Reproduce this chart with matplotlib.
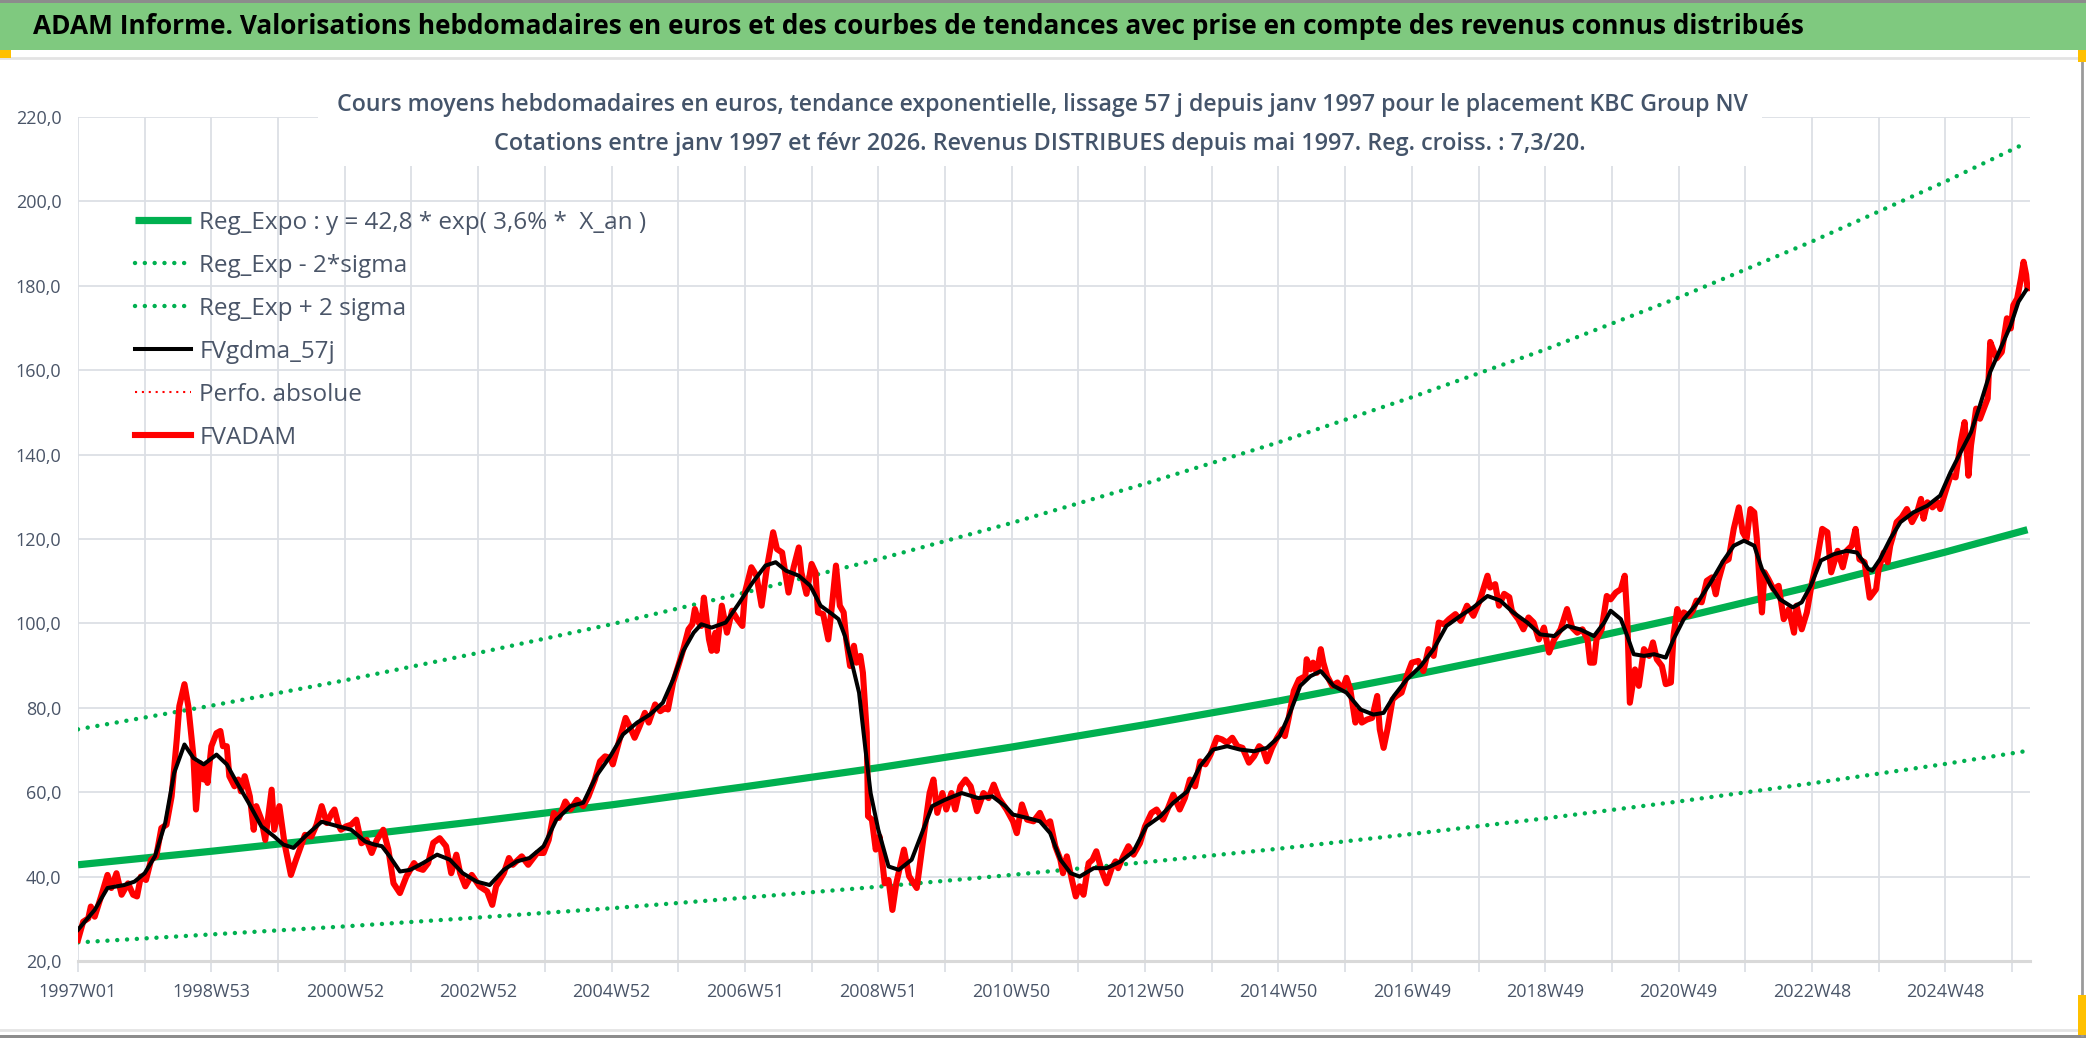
import matplotlib
matplotlib.use('Agg')
import matplotlib.pyplot as plt
from matplotlib.patches import Rectangle
from matplotlib.lines import Line2D
from matplotlib import font_manager

# ---- data (x = weeks counted from 1997W01) ----
tick_weeks = [0, 104, 208, 312, 416, 520, 624, 728, 832, 936, 1040, 1144, 1248, 1352, 1456]
tick_labels = ['1997W01', '1998W53', '2000W52', '2002W52', '2004W52', '2006W51', '2008W51',
               '2010W50', '2012W50', '2014W50', '2016W49', '2018W49', '2020W49', '2022W48',
               '2024W48']

# trend curves (y = 42,8 * exp(3,6% * X_an) and +/- 2 sigma)
trend_weeks = [0, 104, 208, 312, 416, 520, 624, 728, 832, 936, 1040, 1144, 1248, 1352, 1456, 1520]
reg_expo = [42.8, 46.0, 49.4, 53.1, 57.0, 61.3, 65.8, 70.7, 76.0, 81.6, 87.7, 94.2, 101.2,
            108.8, 116.9, 122.2]
reg_plus = [74.9, 80.5, 86.5, 93.0, 99.8, 107.3, 115.2, 123.8, 133.1, 142.9, 153.6, 164.9,
            177.2, 190.5, 204.7, 214.0]
reg_minus = [24.4, 26.3, 28.2, 30.3, 32.5, 35.0, 37.6, 40.4, 43.4, 46.6, 50.1, 53.8, 57.8,
             62.1, 66.7, 69.8]

fvadam_weeks = [
    0, 4, 8, 10, 13, 18, 23, 26, 30, 34, 39, 43, 46, 49, 53, 57, 61, 65, 69, 73,
    77, 79, 83, 86, 90, 92, 95, 98, 100, 101, 104, 108, 111, 113, 116, 118, 122, 125, 127, 130,
    134, 137, 139, 143, 146, 151, 153, 157, 161, 166, 170, 177, 182, 186, 190, 194, 198, 200,
    203, 205, 209, 213, 217, 221, 225, 229, 233, 238, 242, 246, 251, 256, 262, 265, 269, 273,
    277, 282, 287, 291, 295, 298, 302, 307, 313, 319, 323, 326, 332, 336, 339, 346, 351, 358,
    363, 367, 371, 375, 380, 384, 389, 394, 398, 403, 407, 411, 415, 417, 423, 427, 430, 434,
    438, 442, 445, 450, 454, 458, 460, 464, 468, 472, 476, 479, 481, 484, 486, 488, 492, 494,
    497, 498, 502, 506, 510, 514, 518, 520, 525, 529, 533, 537, 540, 542, 545, 549, 551, 554,
    558, 562, 564, 568, 572, 575, 577, 581, 585, 588, 591, 594, 597, 599, 602, 605, 607, 610,
    612, 615, 616, 619, 622, 625, 629, 632, 635, 638, 644, 648, 654, 659, 664, 667, 670, 674,
    677, 681, 684, 688, 692, 696, 701, 706, 710, 714, 718, 724, 729, 732, 736, 740, 745, 750,
    754, 758, 762, 766, 768, 771, 775, 778, 781, 784, 788, 791, 794, 798, 802, 806, 809, 811,
    815, 819, 823, 828, 832, 837, 841, 846, 850, 854, 859, 863, 867, 871, 875, 879, 883, 888,
    892, 896, 900, 904, 908, 913, 917, 921, 924, 927, 931, 935, 939, 941, 944, 948, 952, 957,
    958, 961, 963, 966, 969, 971, 974, 978, 982, 986, 989, 992, 996, 999, 1001, 1005, 1009,
    1013, 1015, 1018, 1021, 1025, 1028, 1032, 1036, 1040, 1045, 1049, 1053, 1057, 1061, 1065,
    1069, 1074, 1078, 1083, 1088, 1093, 1099, 1101, 1105, 1108, 1112, 1116, 1118, 1123, 1127,
    1131, 1135, 1139, 1143, 1147, 1151, 1156, 1161, 1165, 1169, 1173, 1177, 1179, 1182, 1184,
    1188, 1192, 1195, 1199, 1203, 1206, 1208, 1210, 1212, 1214, 1217, 1221, 1225, 1228, 1231,
    1235, 1238, 1242, 1244, 1247, 1249, 1252, 1256, 1259, 1262, 1266, 1270, 1274, 1277, 1279,
    1283, 1287, 1291, 1295, 1298, 1301, 1304, 1307, 1309, 1311, 1313, 1315, 1318, 1322, 1326,
    1330, 1334, 1338, 1340, 1344, 1348, 1352, 1356, 1360, 1364, 1367, 1372, 1376, 1379, 1383,
    1386, 1389, 1393, 1397, 1402, 1404, 1408, 1411, 1413, 1416, 1418, 1422, 1426, 1430, 1434,
    1437, 1439, 1442, 1446, 1450, 1452, 1456, 1460, 1464, 1468, 1471, 1474, 1476, 1480, 1483,
    1486, 1489, 1491, 1494, 1496, 1500, 1504, 1507, 1509, 1512, 1515, 1517, 1519, 1520]
fvadam = [
    25.0, 29.3, 30.1, 32.9, 30.5, 35.3, 40.4, 37.3, 40.8, 35.7, 38.4, 35.7, 35.3, 40.0, 39.2,
    44.0, 44.8, 51.5, 52.3, 59.0, 72.5, 80.4, 85.6, 80.4, 68.5, 55.9, 66.9, 63.0, 66.2, 62.2,
    70.9, 74.0, 74.5, 70.9, 70.9, 63.8, 61.4, 63.0, 60.2, 63.8, 59.0, 51.1, 56.7, 53.5, 48.7,
    60.6, 51.1, 56.7, 47.9, 40.4, 44.0, 49.9, 49.5, 52.3, 56.7, 52.7, 55.1, 55.9, 52.3, 51.1,
    51.9, 52.3, 53.5, 47.9, 48.7, 45.6, 48.7, 51.1, 46.4, 38.4, 36.1, 40.0, 43.2, 42.0, 41.6,
    43.2, 48.0, 49.1, 47.2, 40.8, 45.2, 40.8, 37.7, 40.4, 37.7, 36.5, 33.3, 37.7, 40.8, 44.4,
    42.8, 44.8, 42.8, 45.6, 45.6, 48.7, 55.1, 53.9, 57.8, 55.9, 58.2, 56.7, 59.0, 63.0, 67.3,
    68.5, 68.1, 66.6, 73.3, 77.6, 75.7, 72.9, 75.7, 78.8, 76.5, 80.8, 79.2, 80.0, 79.6, 86.0,
    89.9, 93.9, 98.6, 99.8, 103.4, 100.2, 99.4, 106.1, 96.2, 93.5, 97.8, 93.5, 104.2, 97.8,
    103.0, 101.0, 99.4, 107.3, 113.3, 111.3, 104.2, 112.9, 118.0, 121.6, 117.6, 116.8, 112.9,
    107.3, 113.3, 118.0, 112.1, 107.0, 114.1, 112.1, 102.6, 102.2, 96.2, 104.6, 113.7, 104.2,
    102.6, 96.2, 89.9, 94.7, 90.7, 92.3, 88.3, 74.1, 54.3, 53.5, 46.4, 49.5, 38.4, 39.2, 32.1,
    38.4, 46.4, 40.1, 37.3, 48.7, 59.8, 63.0, 55.1, 59.8, 55.9, 59.8, 55.9, 61.4, 63.0, 61.4,
    55.5, 59.8, 58.6, 61.8, 58.6, 55.9, 53.1, 50.3, 57.1, 53.5, 53.1, 55.1, 52.3, 53.1, 47.2,
    44.0, 40.8, 44.8, 39.2, 35.3, 37.7, 35.7, 43.2, 44.0, 46.0, 41.6, 38.4, 42.0, 43.6, 42.0,
    44.8, 47.2, 45.2, 47.9, 51.9, 55.1, 55.9, 53.5, 56.3, 59.4, 55.9, 58.6, 63.0, 61.4, 67.3,
    66.6, 68.9, 72.9, 72.5, 71.7, 72.9, 70.9, 70.5, 67.0, 68.5, 70.9, 70.1, 67.3, 70.5, 72.9,
    74.9, 73.3, 77.6, 84.0, 86.7, 87.5, 91.5, 89.1, 90.7, 88.3, 93.9, 90.7, 87.5, 85.2, 86.0,
    84.4, 87.1, 84.4, 76.5, 79.6, 76.5, 77.2, 77.6, 82.8, 74.9, 70.5, 74.9, 82.0, 82.8, 83.6,
    87.5, 90.7, 91.1, 88.7, 93.9, 92.3, 100.2, 99.8, 101.0, 102.2, 100.6, 104.2, 101.8, 105.4,
    111.3, 108.5, 109.3, 104.2, 107.0, 106.2, 103.0, 101.0, 98.6, 101.4, 100.2, 96.2, 99.0,
    93.1, 96.2, 98.6, 103.4, 99.0, 97.8, 98.6, 96.2, 90.7, 90.7, 96.2, 98.6, 106.5, 105.7,
    107.3, 108.1, 111.3, 101.0, 81.2, 85.2, 89.1, 85.2, 93.9, 92.3, 95.5, 91.5, 89.9, 85.6,
    86.0, 97.0, 103.4, 101.0, 102.6, 101.8, 103.0, 105.4, 105.0, 110.1, 110.9, 106.9, 110.1,
    114.5, 115.2, 122.4, 127.5, 121.6, 120.0, 127.1, 126.3, 120.0, 110.5, 102.6, 112.1, 110.5,
    108.1, 108.9, 101.0, 103.4, 97.8, 104.2, 98.6, 102.6, 109.7, 115.2, 122.4, 121.6, 112.1,
    117.2, 113.3, 117.2, 118.4, 122.4, 115.2, 114.5, 106.1, 108.1, 112.9, 116.8, 114.5, 118.4,
    121.6, 124.0, 125.2, 127.1, 124.0, 126.3, 129.5, 124.8, 128.7, 127.5, 128.7, 127.1, 131.1,
    135.0, 134.6, 143.0, 147.7, 135.0, 142.2, 150.9, 148.5, 150.9, 153.3, 166.7, 164.3, 162.8,
    164.3, 172.3, 169.9, 175.4, 177.0, 181.8, 185.7, 182.6, 179.4]

gdma_weeks = [
    0, 13, 23, 36, 44, 52, 60, 68, 75, 83, 90, 98, 108, 116, 124, 133, 143, 153, 160, 168,
    177, 190, 203, 213, 224, 231, 237, 243, 251, 259, 269, 280, 290, 300, 311, 321, 332, 342,
    352, 363, 373, 384, 394, 404, 415, 425, 436, 446, 456, 464, 472, 480, 486, 494, 505, 515,
    526, 536, 544, 552, 562, 571, 579, 588, 593, 598, 604, 609, 614, 618, 624, 632, 640, 650,
    658, 666, 676, 689, 702, 713, 723, 729, 740, 750, 758, 766, 774, 781, 792, 802, 813, 823,
    833, 844, 854, 865, 875, 885, 896, 906, 917, 927, 937, 945, 953, 961, 969, 979, 989, 1000,
    1010, 1018, 1026, 1036, 1047, 1057, 1067, 1078, 1088, 1099, 1109, 1119, 1130, 1140, 1151,
    1161, 1171, 1182, 1190, 1195, 1203, 1208, 1213, 1221, 1229, 1238, 1244, 1252, 1262, 1273,
    1283, 1291, 1299, 1307, 1313, 1320, 1327, 1337, 1344, 1351, 1359, 1369, 1379, 1387, 1396,
    1399, 1405, 1413, 1421, 1431, 1442, 1452, 1460, 1468, 1476, 1483, 1491, 1499, 1507, 1513,
    1519]
gdma = [
    27.4, 32.1, 37.3, 38.0, 38.8, 40.8, 44.8, 52.7, 64.6, 71.3, 68.1, 66.6, 68.9, 66.6, 62.2,
    57.5, 51.9, 49.5, 47.6, 46.8, 49.5, 53.0, 51.9, 51.1, 48.3, 47.6, 47.2, 44.8, 41.2, 41.6,
    43.2, 45.2, 44.0, 40.8, 38.8, 38.0, 41.6, 43.6, 44.4, 47.2, 53.5, 56.7, 57.5, 63.8, 68.5,
    73.7, 76.5, 78.4, 81.2, 86.7, 93.5, 97.8, 99.8, 99.0, 100.2, 104.6, 109.7, 113.7, 114.5,
    112.5, 111.3, 108.9, 104.2, 102.2, 101.0, 97.0, 89.9, 83.6, 70.1, 59.8, 51.1, 42.4, 41.6,
    44.0, 50.3, 56.7, 58.2, 59.8, 58.6, 59.0, 56.7, 54.7, 53.9, 53.1, 50.3, 44.0, 40.8, 40.0,
    42.0, 42.0, 43.6, 46.0, 51.9, 54.3, 57.5, 60.2, 66.2, 70.1, 70.9, 70.1, 69.7, 70.5, 73.3,
    78.8, 85.2, 87.5, 88.7, 85.2, 83.6, 79.6, 78.4, 78.8, 82.8, 86.7, 89.9, 93.9, 99.4, 101.8,
    103.8, 106.5, 105.4, 102.6, 100.2, 97.4, 97.0, 99.4, 98.6, 97.0, 100.2, 103.0, 101.0, 97.0,
    92.7, 92.3, 92.7, 91.9, 96.2, 101.0, 104.6, 109.7, 114.9, 118.4, 119.6, 118.4, 112.9, 108.9,
    105.7, 103.8, 105.0, 108.9, 114.9, 116.4, 117.2, 116.8, 112.9, 112.5, 115.2, 120.0, 124.0,
    126.3, 127.9, 130.3, 135.8, 140.6, 145.3, 151.7, 159.6, 165.1, 170.7, 176.2, 179.0]

# ---- fonts ----
installed = set(f.name for f in font_manager.fontManager.ttflist)
base_font = 'Open Sans' if 'Open Sans' in installed else 'DejaVu Sans'
plt.rcParams['font.family'] = [base_font, 'DejaVu Sans']

W, H = 2086, 1038
GREEN = '#00B050'
TXT = '#4A5568'

fig = plt.figure(figsize=(W / 100, H / 100), dpi=100)
fig.patch.set_facecolor('white')

# plot area
ax = fig.add_axes([78 / W, 1 - 961 / H, (2030 - 78) / W, (961 - 117) / H])
ax.set_xlim(0, 1522)
ax.set_ylim(20, 220)

dots = (0, (0.01, 2.2))
ax.plot(trend_weeks, reg_plus, color=GREEN, lw=3.2, ls=dots,
        dash_capstyle='round', label='Reg_Exp + 2 sigma', zorder=3)
ax.plot(trend_weeks, reg_minus, color=GREEN, lw=3.2, ls=dots,
        dash_capstyle='round', label='Reg_Exp - 2*sigma', zorder=3)
ax.plot(trend_weeks, reg_expo, color=GREEN, lw=5.2, solid_capstyle='butt',
        label='Reg_Expo : y = 42,8 * exp( 3,6% *  X_an )', zorder=4)
ax.plot(fvadam_weeks, fvadam, color='#FF0000', lw=4.4, solid_joinstyle='round',
        label='FVADAM', zorder=5)
ax.plot(gdma_weeks, gdma, color='black', lw=2.9, solid_joinstyle='round',
        label='FVgdma_57j', zorder=6)

# grid and axes
ax.set_yticks(range(20, 221, 20))
ax.set_yticklabels([('%.1f' % v).replace('.', ',') for v in range(20, 221, 20)])
grid_weeks = list(range(0, 1509, 52))
ax.set_xticks(grid_weeks)
ax.set_xticklabels([tick_labels[tick_weeks.index(w)] if w in tick_weeks else '' for w in grid_weeks])
ax.grid(True, color='#DCDFE5', lw=1.3, zorder=0)
ax.set_axisbelow(True)
for s in ['top', 'right', 'left']:
    ax.spines[s].set_visible(False)
ax.spines['bottom'].set_color('#D9D9D9')
ax.spines['bottom'].set_linewidth(2.2)
ax.tick_params(axis='x', length=8, width=1.3, color='#DCDFE5', pad=8,
               labelsize=13, labelcolor=TXT)
ax.tick_params(axis='y', length=0, pad=12, labelsize=13, labelcolor=TXT)

# legend
h = {l.get_label(): l for l in ax.get_lines()}
perfo = Line2D([], [], color='#FF0000', lw=1.5, ls=(0, (1, 2.3)), label='Perfo. absolue')
order = ['Reg_Expo : y = 42,8 * exp( 3,6% *  X_an )', 'Reg_Exp - 2*sigma', 'Reg_Exp + 2 sigma',
         'FVgdma_57j']
handles = [h[k] for k in order] + [perfo, h['FVADAM']]
leg = ax.legend(handles=handles, loc='upper left', bbox_to_anchor=(135 / W, 1 - 211 / H),
                bbox_transform=fig.transFigure, frameon=False, fontsize=17.5,
                handlelength=2.3, handletextpad=0.35, labelspacing=0.78,
                borderpad=0, borderaxespad=0, labelcolor=TXT)

# banner and frame
fig.add_artist(Rectangle((0, 1 - 50 / H), 1, 47 / H, transform=fig.transFigure,
                         facecolor='#7FC97F', edgecolor='none', zorder=1))
fig.add_artist(Rectangle((0, 1 - 3 / H), 1, 3 / H, transform=fig.transFigure,
                         facecolor='#8C8C8C', edgecolor='none', zorder=1))
fig.add_artist(Rectangle((0, 0), 1, 3 / H, transform=fig.transFigure,
                         facecolor='#8C8C8C', edgecolor='none', zorder=1))
fig.add_artist(Line2D([0, 1], [1 - 58 / H] * 2, transform=fig.transFigure,
                      color='#E3E3E3', lw=2))
fig.add_artist(Line2D([0, 1], [1 - 1030 / H] * 2, transform=fig.transFigure,
                      color='#E3E3E3', lw=2))
fig.add_artist(Line2D([2082 / W] * 2, [1 - 60 / H, 3 / H], transform=fig.transFigure,
                      color='#9A9A9A', lw=2))
fig.add_artist(Rectangle((0, 1 - 58 / H), 11 / W, 8 / H, transform=fig.transFigure,
                         facecolor='#FFC000', edgecolor='none', zorder=2))
fig.add_artist(Rectangle((2078 / W, 1 - 62 / H), 8 / W, 12 / H, transform=fig.transFigure,
                         facecolor='#FFC000', edgecolor='none', zorder=2))
fig.add_artist(Rectangle((2078 / W, 3 / H), 8 / W, 40 / H, transform=fig.transFigure,
                         facecolor='#FFC000', edgecolor='none', zorder=2))

# white box behind the subtitle
fig.add_artist(Rectangle((318 / W, 1 - 166 / H), (1762 - 318) / W, 94 / H,
                         transform=fig.transFigure, facecolor='white', edgecolor='none',
                         zorder=2))

title = fig.text(33 / W, 1 - 27 / H,
                 'ADAM Informe. Valorisations hebdomadaires en euros et des courbes de '
                 'tendances avec prise en compte des revenus connus distribués',
                 ha='left', va='center', fontsize=20, fontweight='bold', color='black',
                 zorder=3)
sub1 = fig.text(1042 / W, 1 - 105 / H,
                'Cours moyens hebdomadaires en euros, tendance exponentielle, lissage 57 j '
                'depuis janv 1997 pour le placement KBC Group NV',
                ha='center', va='center', fontsize=14, fontweight='semibold', color='#44546A',
                zorder=3)
sub2 = fig.text(1040 / W, 1 - 144 / H,
                'Cotations entre janv 1997 et févr 2026. Revenus DISTRIBUES depuis mai 1997. '
                'Reg. croiss. : 7,3/20.',
                ha='center', va='center', fontsize=14, fontweight='semibold', color='#44546A',
                zorder=3)

# size the header texts to the widths measured on the picture
r = fig.canvas.get_renderer()
for t, target in [(title, 1777), (sub1, 1431), (sub2, 1101)]:
    t.set_fontsize(t.get_fontsize() * target / t.get_window_extent(r).width)

fig.savefig('out.png', dpi=100)
